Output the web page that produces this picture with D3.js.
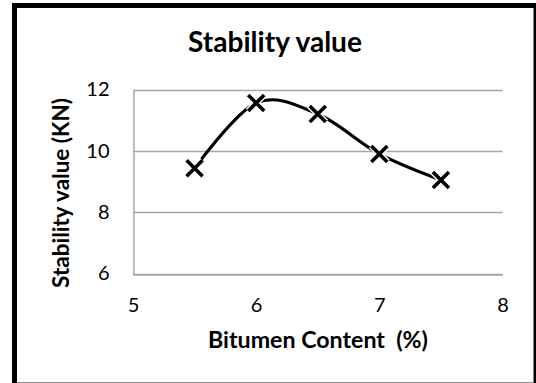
<!DOCTYPE html>
<html>
<head>
<meta charset="utf-8">
<script src="https://cdn.jsdelivr.net/npm/d3@7"></script>
<style>
  html, body { margin: 0; padding: 0; background: #fff; }
  svg { display: block; }
  text { font-family: Lato, "Open Sans", "Noto Sans", sans-serif; fill: #000; white-space: pre; }
</style>
</head>
<body>
<svg id="chart" width="536" height="383"></svg>
<script>
// Marshall stability test results
const bitumenContent = [5.5, 6.0, 6.5, 7.0, 7.5];
const stability = [9.43, 11.56, 11.2, 9.9, 9.05];
const xTicks = [5, 6, 7, 8];
const yTicks = [6, 8, 10, 12];
const titleText = "Stability value";
const xTitle = "Bitumen Content  (%)";
const yTitle = "Stability value (KN)";

const svg = d3.select("#chart");

// outer frame
svg.append("rect")
  .attr("x", 14.5).attr("y", 5.5)
  .attr("width", 521.5).attr("height", 400)
  .attr("fill", "#fff")
  .attr("stroke", "#000").attr("stroke-width", 5);
svg.append("line")
  .attr("x1", 17).attr("x2", 533).attr("y1", 382.5).attr("y2", 382.5)
  .attr("stroke", "#8c8c8c").attr("stroke-width", 1);

const x = d3.scaleLinear().domain([5, 8]).range([133, 502.5]);
const y = d3.scaleLinear().domain([6, 12]).range([273.5, 89.5]);

// fit a text element's font size to a given width
function fitWidth(sel, target) {
  const w = sel.node().getComputedTextLength();
  const fs = parseFloat(sel.attr("font-size"));
  sel.attr("font-size", fs * target / w);
}

// horizontal gridlines
const grid = svg.append("g");
grid.selectAll("line").data(yTicks).join("line")
  .attr("x1", x(5)).attr("x2", x(8))
  .attr("y1", d => Math.round(y(d)) + 0.5).attr("y2", d => Math.round(y(d)) + 0.5)
  .attr("stroke", "#a6a6a6").attr("stroke-width", 1.5);

// y axis
const yAxis = svg.append("g")
  .attr("transform", `translate(${Math.round(x(5)) + 0.5},0)`)
  .call(d3.axisLeft(y).tickValues(yTicks).tickSize(0).tickPadding(24).tickFormat(d3.format("d")));
yAxis.select(".domain").attr("stroke", "#a6a6a6").attr("stroke-width", 1.5);
yAxis.selectAll("text").attr("font-size", 20).style("font-family", "Lato, 'Open Sans', sans-serif").attr("fill", "#111");

// x axis
const xAxis = svg.append("g")
  .attr("transform", `translate(0,${Math.round(y(6)) + 0.5})`)
  .call(d3.axisBottom(x).tickValues(xTicks).tickSize(0).tickPadding(23).tickFormat(d3.format("d")));
xAxis.select(".domain").attr("stroke", "#a6a6a6").attr("stroke-width", 1.5);
xAxis.selectAll("text").attr("font-size", 20).style("font-family", "Lato, 'Open Sans', sans-serif").attr("fill", "#111");

// titles
const title = svg.append("text")
  .attr("x", 275).attr("y", 52)
  .attr("text-anchor", "middle")
  .attr("font-weight", "bold").attr("font-size", 24)
  .text(titleText);
fitWidth(title, 174);

const xt = svg.append("text")
  .attr("x", 318).attr("y", 348)
  .attr("text-anchor", "middle")
  .attr("font-weight", "bold").attr("font-size", 19)
  .text(xTitle);
fitWidth(xt, 220);

const yt = svg.append("text")
  .attr("transform", "translate(69,193) rotate(-90)")
  .attr("text-anchor", "middle")
  .attr("font-weight", "bold").attr("font-size", 19)
  .text(yTitle);
fitWidth(yt, 190);

// smoothed data line
const pts = bitumenContent.map((b, i) => [x(b), y(stability[i])]);
svg.append("path")
  .datum(pts)
  .attr("d", d3.line().curve(d3.curveCardinal.tension(0)))
  .attr("fill", "none")
  .attr("stroke", "#000").attr("stroke-width", 3.2)
  .attr("stroke-linejoin", "round");

// X markers
const s = 8;
const cross = d => `M${d[0]-s},${d[1]-s}L${d[0]+s},${d[1]+s}M${d[0]-s},${d[1]+s}L${d[0]+s},${d[1]-s}`;
const markers = svg.append("g");
markers.selectAll("path.halo").data(pts).join("path")
  .attr("class", "halo").attr("d", cross)
  .attr("stroke", "#fff").attr("stroke-width", 6.5).attr("fill", "none");
markers.selectAll("path.mark").data(pts).join("path")
  .attr("class", "mark").attr("d", cross)
  .attr("stroke", "#000").attr("stroke-width", 3.6).attr("fill", "none");
</script>
</body>
</html>
